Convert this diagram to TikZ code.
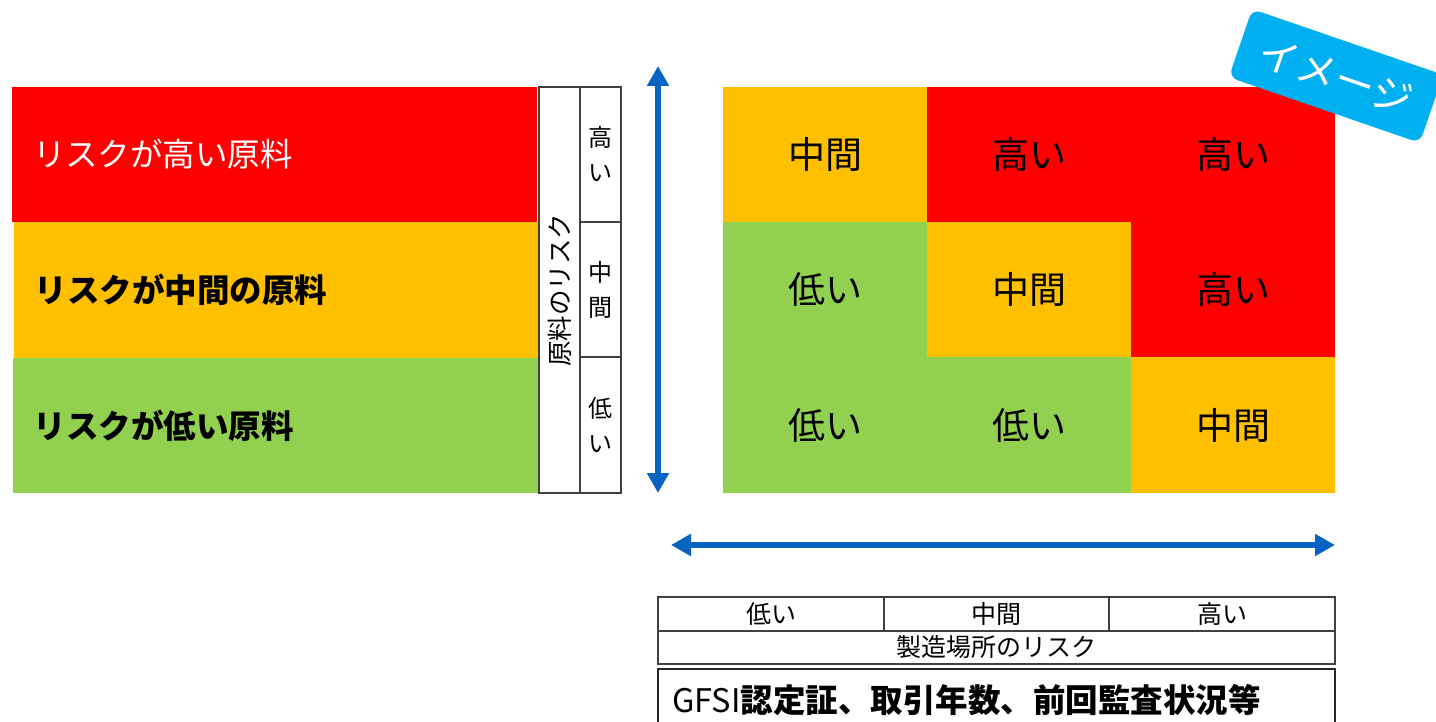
\documentclass[tikz,border=0pt]{standalone}
\usepackage{fontspec}
\setmainfont{Noto Sans CJK JP}
\usetikzlibrary{arrows.meta}
\definecolor{rred}{HTML}{FF0000}
\definecolor{rorange}{HTML}{FFC000}
\definecolor{rgreen}{HTML}{92D050}
\definecolor{rblue}{HTML}{0563C1}
\definecolor{badge}{HTML}{00B0F0}
\definecolor{edge}{HTML}{404040}
\tikzset{
  cell/.style={inner sep=0pt, outer sep=0pt, minimum width=204pt, minimum height=135pt,
    font=\fontsize{37}{42}\selectfont},
  lbox/.style={inner ysep=0pt, inner xsep=21pt, outer sep=0pt, text width=483pt, align=left,
    minimum height=135pt, font=\fontsize{32.5}{38}\selectfont},
  col/.style={draw=edge, line width=1.3pt, inner sep=0pt, outer sep=0pt, minimum width=41pt},
  colt/.style={col, minimum height=135pt, align=center, font=\fontsize{24}{35}\selectfont},
  tcell/.style={draw=edge, line width=1.3pt, inner sep=0pt, outer sep=0pt, minimum height=34pt,
    font=\fontsize{25}{28}\selectfont},
  bigarrow/.style={rblue, line width=5.5pt, {Triangle[width=21pt,length=20pt]}-{Triangle[width=21pt,length=20pt]}},
}
\begin{document}
\begin{tikzpicture}[x=1pt,y=-1pt]
\useasboundingbox (0,0) rectangle (1436,722);
% left boxes
\node[lbox, fill=rred, text=white] (hi) at (274.5,154.5) {リスクが高い原料};
\node[lbox, fill=rorange] (mid) at (276,290) {\bfseries リスクが中間の原料};
\node[lbox, fill=rgreen] (lo) at (275.5,425.5) {\bfseries リスクが低い原料};
% label columns
\node[col, minimum height=406pt] (rawcol) at (559.5,290) {};
\node[rotate=90, font=\fontsize{25.5}{30}\selectfont] (rawlbl) at (rawcol.center) {原料のリスク};
\node[colt] (c1) at (600.5,154.5) {高\\い};
\node[colt] (c2) at (600.5,289.5) {中\\間};
\node[colt, minimum height=136pt] (c3) at (600.5,425) {低\\い};
% grid
\node[cell, fill=rorange] (g11) at (825,154.5) {中間};
\node[cell, fill=rred] (g12) at (1029,154.5) {高い};
\node[cell, fill=rred] (g13) at (1233,154.5) {高い};
\node[cell, fill=rgreen] (g21) at (825,289.5) {低い};
\node[cell, fill=rorange] (g22) at (1029,289.5) {中間};
\node[cell, fill=rred] (g23) at (1233,289.5) {高い};
\node[cell, fill=rgreen, minimum height=136pt] (g31) at (825,425) {低い};
\node[cell, fill=rgreen, minimum height=136pt] (g32) at (1029,425) {低い};
\node[cell, fill=rorange, minimum height=136pt] (g33) at (1233,425) {中間};
% arrows
\coordinate (vtop) at (658,66);
\coordinate (vbot) at (658,493);
\coordinate (hl) at (671,545);
\coordinate (hr) at (1335,545);
\draw[bigarrow] (vbot) -- (vtop);
\draw[bigarrow] (hl) -- (hr);
% bottom table
\node[tcell, minimum width=226pt] (b1) at (771,614) {低い};
\node[tcell, minimum width=225pt] (b2) at (996.5,614) {中間};
\node[tcell, minimum width=226pt] (b3) at (1222,614) {高い};
\node[tcell, minimum width=677pt, minimum height=33pt] (b4) at (996.5,647.5) {製造場所のリスク};
\node[draw=black!85, line width=2.5pt, inner xsep=14pt, inner ysep=0pt, outer sep=0pt,
  minimum height=62pt, text width=649pt, align=left, font=\fontsize{32.5}{38}\selectfont]
  (gfsi) at (996.5,700) {GFSI\bfseries 認定証、取引年数、前回監査状況等};
% badge
\node[fill=badge, rounded corners=9pt, rotate=-19, minimum width=202pt, minimum height=72pt,
  text=white, font=\fontsize{40}{44}\selectfont, inner sep=0pt] (img) at (1336,76) {イメージ};
\end{tikzpicture}
\end{document}
